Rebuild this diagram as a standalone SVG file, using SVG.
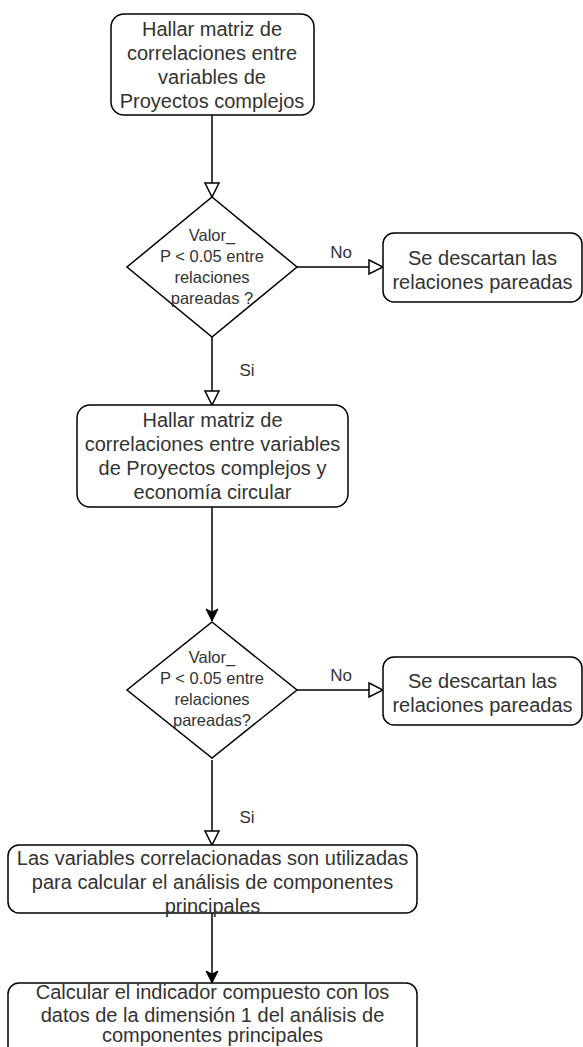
<svg xmlns="http://www.w3.org/2000/svg" width="583" height="1047" viewBox="0 0 583 1047">
<style>
.box{fill:#fff;stroke:#000;stroke-width:1.5}
.t{font-family:"Liberation Sans",Arial,sans-serif;font-size:20px;fill:#333;text-anchor:middle}
.d{font-family:"Liberation Sans",Arial,sans-serif;font-size:16.5px;fill:#333;text-anchor:middle}
.l{font-family:"Liberation Sans",Arial,sans-serif;font-size:17px;fill:#333;text-anchor:middle}
.c{fill:none;stroke:#000;stroke-width:1.5}
</style>
<defs>
<marker id="open" markerUnits="userSpaceOnUse" markerWidth="16" markerHeight="16" refX="14" refY="7" orient="auto" viewBox="-1 -1 16 16">
<path d="M0,0 L14,7 L0,14 Z" fill="#fff" stroke="#000" stroke-width="1.5"/>
</marker>
<marker id="filled" markerUnits="userSpaceOnUse" markerWidth="14" markerHeight="14" refX="12" refY="6" orient="auto" viewBox="-1 -1 14 14">
<path d="M0,0 L12,6 L0,12 L3,6 Z" fill="#000" stroke="#000" stroke-width="1"/>
</marker>
</defs>
<rect x="0" y="0" width="583" height="1047" fill="#fff"/>
<g id="connectors">
<path class="c" d="M212,115 L212,197" marker-end="url(#open)"/>
<path class="c" d="M297,267 L383,267" marker-end="url(#open)"/>
<path class="c" d="M212,337 L212,405" marker-end="url(#open)"/>
<path class="c" d="M212,507 L212,621" marker-end="url(#filled)"/>
<path class="c" d="M297,690 L383,690" marker-end="url(#open)"/>
<path class="c" d="M212,760 L212,845" marker-end="url(#open)"/>
<path class="c" d="M212,913 L212,983" marker-end="url(#filled)"/>
<text class="l" x="341" y="258">No</text>
<text class="l" x="247" y="376">Si</text>
<text class="l" x="341" y="681">No</text>
<text class="l" x="247" y="823">Si</text>
</g>
<g id="n1">
<rect class="box" x="111" y="14" width="203" height="101" rx="13"/>
<text class="t" x="212" y="36">Hallar matriz de</text>
<text class="t" x="212" y="60">correlaciones entre</text>
<text class="t" x="212" y="84">variables de</text>
<text class="t" x="212" y="108">Proyectos complejos</text>
</g>
<g id="d1">
<polygon class="box" points="212,197 297,267 212,337 127,267"/>
<text class="d" x="212" y="241">Valor_</text>
<text class="d" x="212" y="262">P &lt; 0.05 entre</text>
<text class="d" x="212" y="283">relaciones</text>
<text class="d" x="212" y="304">pareadas ?</text>
</g>
<g id="r1">
<rect class="box" x="383" y="233" width="199" height="69" rx="11"/>
<text class="t" x="482.5" y="265">Se descartan las</text>
<text class="t" x="482.5" y="289">relaciones pareadas</text>
</g>
<g id="n2">
<rect class="box" x="77" y="405" width="271" height="102" rx="13"/>
<text class="t" x="212.5" y="427">Hallar matriz de</text>
<text class="t" x="212.5" y="451">correlaciones entre variables</text>
<text class="t" x="212.5" y="475">de Proyectos complejos y</text>
<text class="t" x="212.5" y="499">economía circular</text>
</g>
<g id="d2">
<polygon class="box" points="212,622 297,690 212,758 127,690"/>
<text class="d" x="212" y="663">Valor_</text>
<text class="d" x="212" y="684">P &lt; 0.05 entre</text>
<text class="d" x="212" y="705">relaciones</text>
<text class="d" x="212" y="726">pareadas?</text>
</g>
<g id="r2">
<rect class="box" x="383" y="657" width="199" height="68" rx="11"/>
<text class="t" x="482.5" y="688">Se descartan las</text>
<text class="t" x="482.5" y="712">relaciones pareadas</text>
</g>
<g id="n3">
<rect class="box" x="8" y="845" width="409" height="68" rx="11"/>
<text class="t" x="212.5" y="865">Las variables correlacionadas son utilizadas</text>
<text class="t" x="212.5" y="889">para calcular el análisis de componentes</text>
<text class="t" x="212.5" y="913">principales</text>
</g>
<g id="n4">
<rect class="box" x="8" y="983" width="409" height="80" rx="11"/>
<text class="t" x="212.5" y="999">Calcular el indicador compuesto con los</text>
<text class="t" x="212.5" y="1022">datos de la dimensión 1 del análisis de</text>
<text class="t" x="212.5" y="1042">componentes principales</text>
</g>
</svg>
